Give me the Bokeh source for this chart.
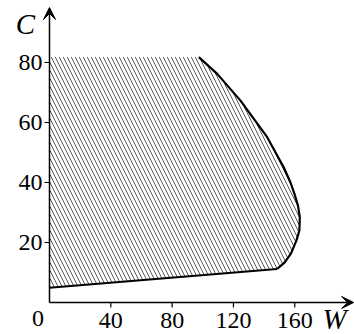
import math
from bokeh.plotting import figure
from bokeh.models import Range1d, Arrow, VeeHead
from bokeh.core.properties import value
from bokeh.embed import file_html
from bokeh.resources import INLINE

# ---- data ----
lower_w = [0, 148.5]
lower_c = [4.9, 11.2]
curve_w = [148.5, 153.3, 157.5, 161.1, 163.0, 163.3, 162.1, 159.8, 157.2, 152.8, 142.0, 124.6, 109.4, 97.4]
curve_c = [11.2, 13.3, 16.3, 20.7, 24.0, 28.4, 32.3, 36.2, 40.0, 45.1, 55.1, 67.3, 76.2, 81.8]
top_c = 81.8
x_ticks = [40, 80, 120, 160]
y_ticks = [20, 40, 60, 80]
x_tick_labels = ["40", "80", "120", "160"]
y_tick_labels = ["20", "40", "60", "80"]
origin_label = "0"
x_name = "W"
y_name = "C"
x_tip = 198.4
y_tip = 98.33

SERIF = value("Liberation Serif")

p = figure(width=354, height=334, output_backend="svg", toolbar_location=None,
           x_range=Range1d(-31.96, 198.96), y_range=Range1d(-10.667, 100.667),
           x_axis_type=None, y_axis_type=None,
           min_border=0, min_border_left=0, min_border_right=0,
           min_border_top=0, min_border_bottom=0)
p.outline_line_color = None
p.grid.visible = False
p.background_fill_color = "white"
p.border_fill_color = "white"

# hatched region
poly_w = lower_w + curve_w[1:] + [0]
poly_c = lower_c + curve_c[1:] + [top_c]
p.patch(poly_w, poly_c, fill_alpha=0, line_alpha=0,
        hatch_pattern="\\", hatch_color="#585858", hatch_scale=8, hatch_weight=1)

p.line(lower_w, lower_c, line_color="black", line_width=2)
p.line(curve_w, curve_c, line_color="black", line_width=2.2, line_join="round")

# axes with arrowheads
p.add_layout(Arrow(x_start=0, y_start=0, x_end=x_tip, y_end=0, line_width=1.5, line_color="black",
                   end=VeeHead(size=12, fill_color="black", line_color="black", line_width=1)))
p.add_layout(Arrow(x_start=0, y_start=0, x_end=0, y_end=y_tip, line_width=1.5, line_color="black",
                   end=VeeHead(size=12, fill_color="black", line_color="black", line_width=1)))

# ticks
p.ray(x=[0] * len(y_ticks), y=y_ticks, length=5, length_units="screen", angle=math.pi,
      line_color="black", line_width=1.2)
p.ray(x=x_ticks, y=[0] * len(x_ticks), length=5, length_units="screen", angle=-math.pi / 2,
      line_color="black", line_width=1.2)

# tick labels
p.text(x=[0] * len(y_ticks), y=y_ticks, text=y_tick_labels, x_offset=-7, y_offset=0,
       text_align="right", text_baseline="middle", text_font=SERIF,
       text_font_size="24px", text_color="black")
p.text(x=x_ticks, y=[0] * len(x_ticks), text=x_tick_labels, x_offset=0, y_offset=18,
       text_align="center", text_baseline="middle", text_font=SERIF,
       text_font_size="24px", text_color="black")
p.text(x=[0], y=[0], text=[origin_label], x_offset=-11.5, y_offset=16.5,
       text_align="center", text_baseline="middle", text_font=SERIF,
       text_font_size="24px", text_color="black")

# axis names
p.text(x=[0], y=[y_tip], text=[y_name], x_offset=-24, y_offset=16,
       text_align="center", text_baseline="middle", text_font=SERIF,
       text_font_style="italic", text_font_size="29px", text_color="black")
p.text(x=[x_tip], y=[0], text=[x_name], x_offset=-19, y_offset=17,
       text_align="center", text_baseline="middle", text_font=SERIF,
       text_font_style="italic", text_font_size="29px", text_color="black")

open("out.html", "w").write(file_html(p, INLINE))
